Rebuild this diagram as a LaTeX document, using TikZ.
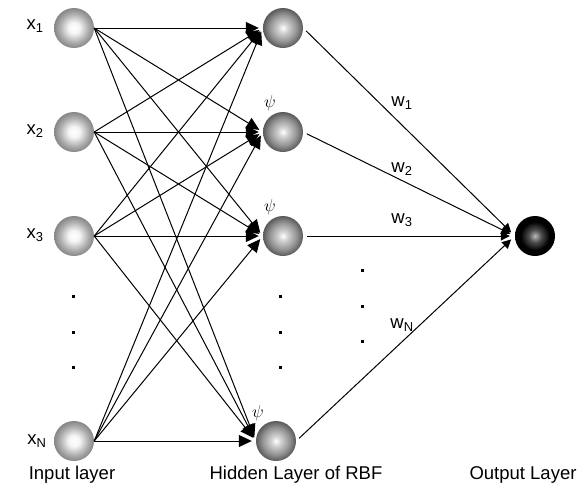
\documentclass[tikz,border=0pt]{standalone}
\usepackage{fontspec}
\setmainfont{Liberation Sans}
\usetikzlibrary{arrows.meta}

\pgfdeclareradialshading{inball}{\pgfpoint{0bp}{0bp}}{color(0bp)=(white); color(7bp)=(white!92!gray); color(18bp)=(gray!65); color(25bp)=(gray!95); color(50bp)=(gray!95)}
\pgfdeclareradialshading{hidball}{\pgfpoint{0bp}{0bp}}{color(0bp)=(white); color(6bp)=(gray!35); color(17bp)=(gray!85); color(25bp)=(black!65); color(50bp)=(black!65)}
\pgfdeclareradialshading{outball}{\pgfpoint{0bp}{0bp}}{color(0bp)=(gray!55); color(8bp)=(black!70); color(18bp)=(black); color(50bp)=(black)}

\begin{document}
\begin{tikzpicture}[x=1pt, y=-1pt,
    font=\fontsize{18.5}{22}\selectfont,
    inball/.style={circle, minimum size=40pt, inner sep=0pt, shading=inball},
    hidball/.style={circle, minimum size=40pt, inner sep=0pt, shading=hidball},
    outball/.style={circle, minimum size=40pt, inner sep=0pt, shading=outball},
    link/.style={line width=1pt, -{Triangle[length=13pt, width=12pt]}, shorten >=4pt},
    wlink/.style={line width=1pt, -{Triangle[length=9pt, width=9pt]}, shorten <=4pt, shorten >=5pt},
    dotmark/.style={rectangle, fill=black, minimum size=3pt, inner sep=0pt},
    psimark/.style={font=\fontsize{18}{20}\selectfont}]
    \useasboundingbox (0, 0) rectangle (587, 491);

    % input layer
    \node[inball] (i1) at (74, 28) {};
    \node[inball] (i2) at (74, 132) {};
    \node[inball] (i3) at (74, 236) {};
    \node[inball] (iN) at (74, 441) {};
    \node (lx1) at (35, 26) {x\textsubscript{1}};
    \node (lx2) at (35, 131) {x\textsubscript{2}};
    \node (lx3) at (35, 235) {x\textsubscript{3}};
    \node (lxN) at (37, 441) {x\textsubscript{N}};
    \node[dotmark] (di1) at (73, 296) {};
    \node[dotmark] (di2) at (73, 332) {};
    \node[dotmark] (di3) at (73, 367) {};

    % hidden layer
    \node[hidball] (h1) at (283, 28) {};
    \node[hidball] (h2) at (283, 132) {};
    \node[hidball] (h3) at (283, 236) {};
    \node[hidball] (hN) at (276, 441) {};
    \node[psimark] (psi2) at (270, 103) {\(\psi\)};
    \node[psimark] (psi3) at (270, 207) {\(\psi\)};
    \node[psimark] (psiN) at (258, 413) {\(\psi\)};
    \node[dotmark] (dh1) at (280, 296) {};
    \node[dotmark] (dh2) at (280, 332) {};
    \node[dotmark] (dh3) at (280, 367) {};

    % output layer
    \node[outball] (out) at (535, 236) {};

    % input to hidden
    \draw[link] (i1.east) -- (h1.west);
    \draw[link] (i1.east) -- (h2.west);
    \draw[link] (i1.east) -- (h3.west);
    \draw[link] (i1.east) -- (hN.west);
    \draw[link] (i2.east) -- (h1.west);
    \draw[link] (i2.east) -- (h2.west);
    \draw[link] (i2.east) -- (h3.west);
    \draw[link] (i2.east) -- (hN.west);
    \draw[link] (i3.east) -- (h1.west);
    \draw[link] (i3.east) -- (h2.west);
    \draw[link] (i3.east) -- (h3.west);
    \draw[link] (i3.east) -- (hN.west);
    \draw[link] (iN.east) -- (h1.west);
    \draw[link] (iN.east) -- (h2.west);
    \draw[link] (iN.east) -- (h3.west);
    \draw[link] (iN.east) -- (hN.west);

    % hidden to output
    \draw[wlink] (h1.east) -- (out.west);
    \draw[wlink] (h2.east) -- (out.west);
    \draw[wlink] (h3.east) -- (out.west);
    \draw[wlink] (hN.east) -- (out.west);
    \node (w1) at (402, 103) {w\textsubscript{1}};
    \node (w2) at (402, 169) {w\textsubscript{2}};
    \node (w3) at (402, 220) {w\textsubscript{3}};
    \node (wN) at (402, 325) {w\textsubscript{N}};
    \node[dotmark] (dw1) at (362, 270) {};
    \node[dotmark] (dw2) at (362, 306) {};
    \node[dotmark] (dw3) at (362, 341) {};

    % layer names
    \node (inname) at (72, 475) {Input layer};
    \node (hidname) at (296, 475) {Hidden Layer of RBF};
    \node (outname) at (523, 475) {Output Layer};
  \end{tikzpicture}
\end{document}
